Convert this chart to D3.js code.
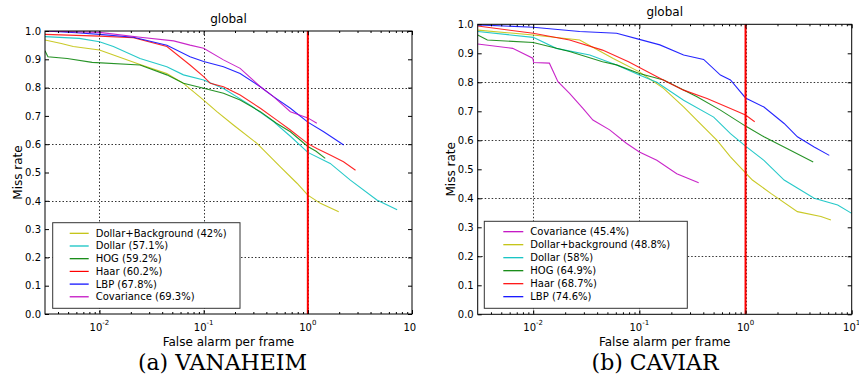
<!DOCTYPE html>
<html>
<head>
<meta charset="utf-8">
<script src="https://cdn.jsdelivr.net/npm/d3@7"></script>
<style>
  body { margin: 0; background: #fff; }
  svg { display: block; }
  text { font-family: "DejaVu Sans", sans-serif; fill: #000; }
</style>
</head>
<body>
<svg id="fig" width="859" height="376"></svg>
<script>
const fppiTicks = [0.01, 0.1, 1, 10];
const fppiExponents = ["-2", "-1", "0", "1"];
const fppiGrid = [0.01, 0.1, 1];
const missTicks = [0, 0.1, 0.2, 0.3, 0.4, 0.5, 0.6, 0.7, 0.8, 0.9, 1.0];
const missGrid = [0.2, 0.4, 0.6, 0.8];

// VANAHEIM curves: [false alarms per frame, miss rate]
const vanDollarBg = [[0.003,0.968],[0.0043,0.956],[0.0056,0.945],[0.01,0.933],[0.0245,0.882],[0.0443,0.85],[0.064,0.815],[0.1,0.756],[0.134,0.715],[0.193,0.668],[0.325,0.603],[0.545,0.52],[0.787,0.462],[1.0,0.42],[1.32,0.391],[1.98,0.361]];
const vanDollar = [[0.003,0.98],[0.0064,0.974],[0.01,0.962],[0.0136,0.945],[0.0245,0.903],[0.0443,0.874],[0.064,0.845],[0.1,0.827],[0.155,0.797],[0.28,0.738],[0.468,0.68],[0.68,0.628],[1.0,0.571],[1.64,0.532],[2.56,0.473],[4.6,0.403],[7.2,0.368]];
const vanHog = [[0.003,0.93],[0.0032,0.909],[0.0049,0.903],[0.0085,0.889],[0.0245,0.88],[0.0443,0.845],[0.064,0.815],[0.1,0.798],[0.155,0.78],[0.224,0.756],[0.35,0.715],[0.5,0.674],[0.68,0.644],[1.0,0.592],[1.2,0.575],[1.47,0.55]];
const vanHaar = [[0.003,0.988],[0.01,0.982],[0.0212,0.976],[0.0444,0.945],[0.074,0.88],[0.1,0.839],[0.116,0.815],[0.155,0.803],[0.224,0.774],[0.35,0.727],[0.5,0.686],[0.68,0.65],[1.0,0.602],[1.22,0.585],[1.64,0.562],[2.2,0.538],[2.87,0.508]];
const vanLbp = [[0.003,1.0],[0.006,0.994],[0.01,0.988],[0.0212,0.978],[0.0444,0.95],[0.074,0.909],[0.1,0.892],[0.155,0.874],[0.224,0.85],[0.35,0.803],[0.468,0.768],[0.68,0.727],[1.0,0.678],[1.42,0.644],[2.21,0.597]];
const vanCov = [[0.003,1.0],[0.01,0.995],[0.0246,0.978],[0.0515,0.965],[0.074,0.95],[0.1,0.939],[0.155,0.898],[0.224,0.868],[0.35,0.803],[0.468,0.768],[0.68,0.715],[1.0,0.693],[1.22,0.674]];

const vanNames = ["Dollar+Background", "Dollar", "HOG", "Haar", "LBP", "Covariance"];
const vanScores = ["42%", "57.1%", "59.2%", "60.2%", "67.8%", "69.3%"];
const vanCurves = [vanDollarBg, vanDollar, vanHog, vanHaar, vanLbp, vanCov];

// CAVIAR curves
const cavCov = [[0.003,0.932],[0.0064,0.917],[0.0099,0.883],[0.0101,0.868],[0.0142,0.866],[0.0171,0.802],[0.022,0.762],[0.0294,0.71],[0.0365,0.67],[0.0525,0.636],[0.0754,0.59],[0.1,0.56],[0.146,0.531],[0.225,0.485],[0.362,0.454]];
const cavDollarBg = [[0.003,0.98],[0.01,0.963],[0.0274,0.946],[0.0567,0.882],[0.1,0.836],[0.169,0.779],[0.261,0.715],[0.349,0.669],[0.539,0.6],[0.721,0.543],[1.0,0.488],[1.16,0.463],[1.73,0.417],[3.08,0.354],[5.13,0.337],[6.37,0.325]];
const cavDollar = [[0.003,0.975],[0.01,0.955],[0.0165,0.917],[0.0341,0.894],[0.061,0.86],[0.1,0.825],[0.146,0.8],[0.261,0.738],[0.501,0.68],[0.721,0.623],[1.0,0.58],[1.49,0.531],[2.31,0.463],[4.43,0.4],[7.38,0.377],[10,0.348]];
const cavHog = [[0.003,0.963],[0.0037,0.946],[0.01,0.937],[0.022,0.906],[0.045,0.871],[0.061,0.86],[0.1,0.83],[0.169,0.808],[0.349,0.75],[0.58,0.704],[1.0,0.649],[1.49,0.612],[2.48,0.571],[4.34,0.525]];
const cavHaar = [[0.003,0.994],[0.01,0.969],[0.022,0.946],[0.045,0.911],[0.079,0.871],[0.156,0.814],[0.261,0.773],[0.434,0.744],[0.721,0.71],[1.0,0.687],[1.22,0.664]];
const cavLbp = [[0.003,0.998],[0.01,0.99],[0.0274,0.975],[0.061,0.969],[0.1,0.948],[0.156,0.929],[0.261,0.894],[0.403,0.879],[0.58,0.825],[0.721,0.808],[1.0,0.746],[1.49,0.715],[2.31,0.658],[3.08,0.612],[4.43,0.577],[6.15,0.548]];

const cavNames = ["Covariance", "Dollar+background", "Dollar", "HOG", "Haar", "LBP"];
const cavScores = ["45.4%", "48.8%", "58%", "64.9%", "68.7%", "74.6%"];
const cavCurves = [cavCov, cavDollarBg, cavDollar, cavHog, cavHaar, cavLbp];

// matplotlib single-letter colours, keyed by method
const methodColor = {
  "dollar+background": "#bfbf00",
  "dollar": "#00bfbf",
  "hog": "#008000",
  "haar": "#ff0000",
  "lbp": "#0000ff",
  "covariance": "#bf00bf"
};

const svg = d3.select("#fig");
const defs = svg.append("defs");

function minorTicks(lo, hi) {
  const out = [];
  for (let e = -3; e <= 1; e++) {
    for (let k = 2; k <= 9; k++) {
      const v = k * Math.pow(10, e);
      if (v > lo && v < hi) out.push(v);
    }
  }
  return out;
}

function drawPanel(p) {
  defs.append("clipPath").attr("id", p.id + "-fig")
    .append("rect").attr("x", p.figX0).attr("y", 0).attr("width", p.figX1 - p.figX0).attr("height", 376);
  defs.append("clipPath").attr("id", p.id + "-plot")
    .append("rect").attr("x", p.left).attr("y", p.top).attr("width", p.right - p.left).attr("height", p.bottom - p.top);

  const g = svg.append("g").attr("clip-path", `url(#${p.id}-fig)`);

  const x = d3.scaleLog().domain([0.003, 10]).range([p.left, p.right]);
  const y = d3.scaleLinear().domain([0, 1]).range([p.bottom, p.top]);

  // dotted grid
  const grid = g.append("g");
  grid.selectAll("line.v").data(fppiGrid).join("line").attr("class", "v")
    .attr("x1", d => Math.round(x(d)) + 0.5).attr("x2", d => Math.round(x(d)) + 0.5)
    .attr("y1", p.top).attr("y2", p.bottom);
  grid.selectAll("line.h").data(missGrid).join("line").attr("class", "h")
    .attr("x1", p.left).attr("x2", p.right)
    .attr("y1", d => Math.round(y(d)) + 0.5).attr("y2", d => Math.round(y(d)) + 0.5);
  grid.selectAll("line")
    .style("stroke", "#333").style("stroke-width", "1px").style("stroke-dasharray", "1.5,2");

  // curves
  const line = d3.line().x(d => x(d[0])).y(d => y(d[1]));
  const curves = g.append("g").attr("clip-path", `url(#${p.id}-plot)`);
  p.curves.forEach((c, i) => {
    curves.append("path").datum(c)
      .attr("fill", "none")
      .attr("stroke", methodColor[p.names[i].toLowerCase()])
      .attr("stroke-width", 1.1)
      .attr("stroke-opacity", 0.85)
      .attr("d", line);
  });

  // red line at 1 FPPI
  curves.append("line")
    .attr("x1", x(1)).attr("x2", x(1)).attr("y1", p.top).attr("y2", p.bottom)
    .attr("stroke", "#ff0000").attr("stroke-width", 2);

  // axes with inward ticks
  const yAxis = d3.axisLeft(y).tickValues(missTicks).tickSize(-4).tickPadding(4).tickFormat(d3.format(".1f"));
  g.append("g").attr("transform", `translate(${p.left},0)`).call(yAxis)
    .call(s => s.select(".domain").remove())
    .call(s => s.selectAll("text").style("font-size", "10px").style("font-family", "DejaVu Sans"));
  g.append("g").attr("transform", `translate(${p.right},0)`)
    .call(d3.axisRight(y).tickValues(missTicks).tickSize(-4).tickFormat(""))
    .call(s => s.select(".domain").remove());

  const minor = minorTicks(0.003, 10);
  const bottom = g.append("g").attr("transform", `translate(0,${p.bottom})`);
  bottom.call(d3.axisBottom(x).tickValues(fppiTicks).tickSize(-4).tickFormat(""))
    .call(s => s.select(".domain").remove());
  bottom.append("g").call(d3.axisBottom(x).tickValues(minor).tickSize(-2).tickFormat(""))
    .call(s => s.select(".domain").remove());
  const top = g.append("g").attr("transform", `translate(0,${p.top})`);
  top.call(d3.axisTop(x).tickValues(fppiTicks).tickSize(-4).tickFormat(""))
    .call(s => s.select(".domain").remove());
  top.append("g").call(d3.axisTop(x).tickValues(minor).tickSize(-2).tickFormat(""))
    .call(s => s.select(".domain").remove());

  // power-of-ten labels
  const labs = g.append("g").selectAll("text").data(fppiTicks).join("text")
    .attr("x", d => x(d)).attr("y", p.bottom + 17)
    .attr("text-anchor", "middle").style("font-size", "10px");
  labs.append("tspan").text("10");
  labs.append("tspan").attr("dy", -6).style("font-size", "7px").text((d, i) => fppiExponents[i]);

  // frame
  g.append("rect").attr("x", p.left).attr("y", p.top)
    .attr("width", p.right - p.left).attr("height", p.bottom - p.top)
    .attr("fill", "none").attr("stroke", "#000").attr("stroke-width", 1);

  // titles
  g.append("text").attr("x", (p.left + p.right) / 2).attr("y", p.titleY)
    .attr("text-anchor", "middle").style("font-size", "12px").text("global");
  g.append("text").attr("x", (p.left + p.right) / 2).attr("y", 346)
    .attr("text-anchor", "middle").style("font-size", "12px").text("False alarm per frame");
  g.append("text").attr("transform", `translate(${p.yLabelX},${(p.top + p.bottom) / 2}) rotate(-90)`)
    .attr("text-anchor", "middle").attr("dy", "0.35em").style("font-size", "12px").text("Miss rate");

  // legend
  const lg = g.append("g").attr("transform", `translate(${p.legend.x},${p.legend.y})`);
  lg.append("rect").attr("width", p.legend.w).attr("height", p.legend.h)
    .attr("fill", "#fff").attr("stroke", "#333").attr("stroke-width", 1);
  p.names.forEach((n, i) => {
    const ry = p.legend.row0 + i * p.legend.step;
    lg.append("line").attr("x1", p.legend.l0).attr("x2", p.legend.l1).attr("y1", ry).attr("y2", ry)
      .attr("stroke", methodColor[n.toLowerCase()]).attr("stroke-width", 1.2);
    lg.append("text").attr("x", p.legend.tx).attr("y", ry).attr("dy", "0.35em")
      .style("font-size", "10px").text(`${n} (${p.scores[i]})`);
  });

  // sub-caption
  svg.append("text").attr("x", p.captionX).attr("y", 370).attr("text-anchor", "middle")
    .style("font-family", "'DejaVu Serif', serif").style("font-size", "22px")
    .text(p.caption);
}

drawPanel({
  id: "van", figX0: 0, figX1: 416,
  left: 45, right: 412, top: 31, bottom: 314,
  titleY: 22.5, yLabelX: 18,
  curves: vanCurves, names: vanNames, scores: vanScores,
  legend: {x: 52.7, y: 222.7, w: 187.3, h: 85.6, row0: 10.6, step: 12.7, l0: 17, l1: 36, tx: 43},
  captionX: 222.5, caption: "(a) VANAHEIM"
});

drawPanel({
  id: "cav", figX0: 420, figX1: 859,
  left: 477.7, right: 851.7, top: 24.3, bottom: 314.3,
  titleY: 16, yLabelX: 451,
  curves: cavCurves, names: cavNames, scores: cavScores,
  legend: {x: 484.3, y: 221.3, w: 203, h: 87, row0: 10.4, step: 13, l0: 19, l1: 39, tx: 46},
  captionX: 655, caption: "(b) CAVIAR"
});
</script>
</body>
</html>
